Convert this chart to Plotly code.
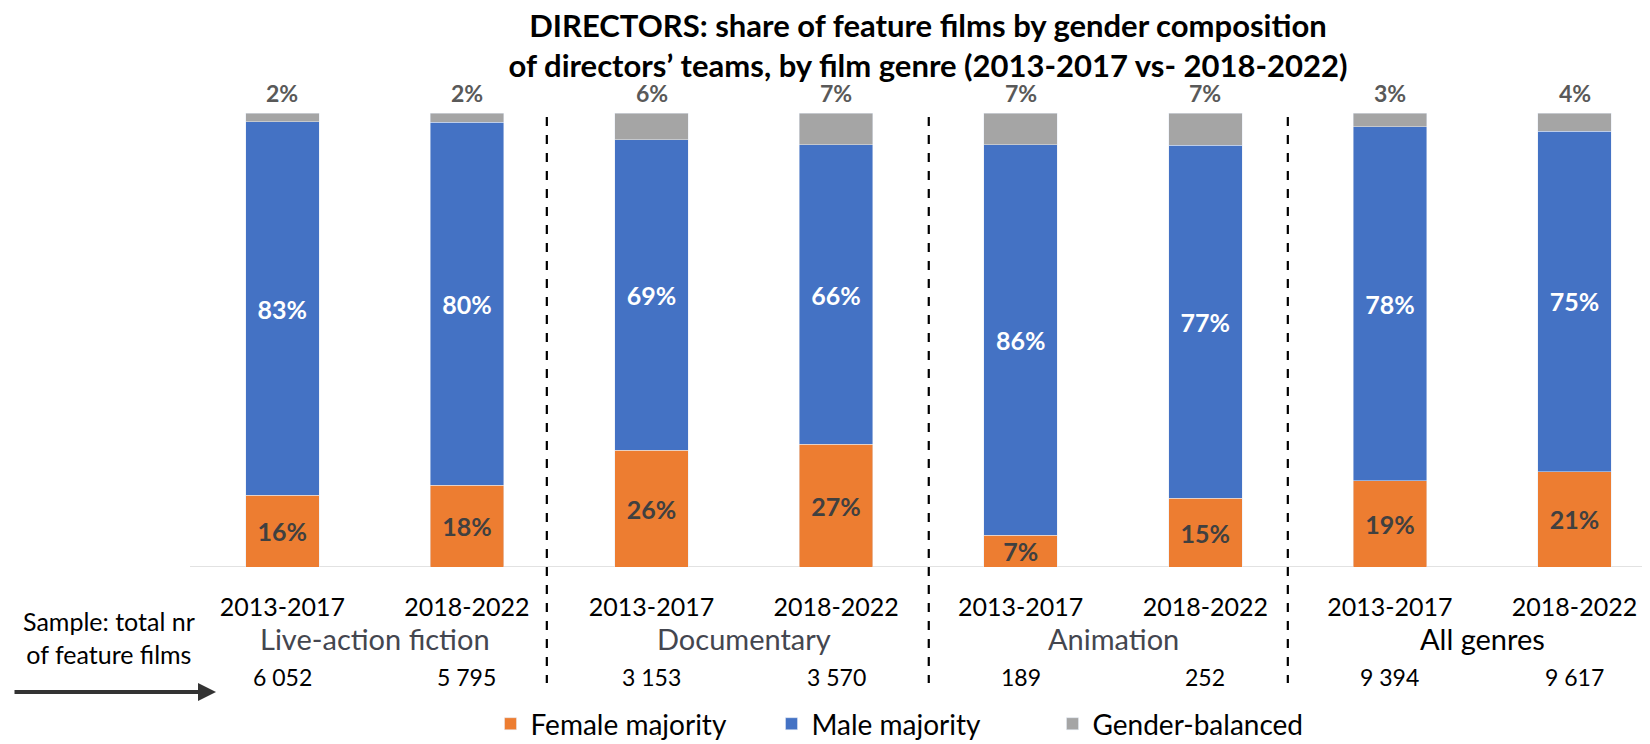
import plotly.graph_objects as go

periods = ["2013-2017", "2018-2022"] * 4
genres = ["Live-action fiction", "Documentary", "Animation", "All genres"]
female = [16, 18, 26, 27, 7, 15, 19, 21]
male = [83, 80, 69, 66, 86, 77, 78, 75]
balanced = [2, 2, 6, 7, 7, 7, 3, 4]
sample_n = [6052, 5795, 3153, 3570, 189, 252, 9394, 9617]

FONT = "Lato"
ORANGE, BLUE, GREY = "#ED7D31", "#4472C4", "#A5A5A5"

xs = list(range(len(periods)))

def pct(vals):
    return [f"{v}%" for v in vals]

# the page body keeps an 8px margin: shift everything by it
OFF = 8
W, H = 1650 - OFF, 744 - OFF
L, T = 182, 105
B = H - (567 - OFF)
plot_h = H - T - B
plot_w = W - L

def py(sy):
    """screen y (px) -> paper y"""
    return (H - B - (sy - OFF)) / plot_h

def pxx(sx):
    """screen x (px) -> paper x"""
    return (sx - OFF - L) / plot_w

fig = go.Figure()
fig.add_trace(go.Bar(
    x=xs, y=female, name="Female majority", marker_color=ORANGE,
    text=pct(female), textposition="inside", insidetextanchor="middle",
    textangle=0, constraintext="none",
    textfont=dict(family=FONT, size=25, color="#404040", weight="bold"),
))
fig.add_trace(go.Bar(
    x=xs, y=male, name="Male majority", marker_color=BLUE,
    text=pct(male), textposition="inside", insidetextanchor="middle",
    textangle=0, constraintext="none",
    textfont=dict(family=FONT, size=25, color="white", weight="bold"),
))
fig.add_trace(go.Bar(
    x=xs, y=balanced, name="Gender-balanced", marker_color=GREY,
    textposition="none",
))

annotations = []
# gender-balanced share labels above each bar
for i, v in enumerate(balanced):
    annotations.append(dict(
        x=i, y=py(93), xref="x", yref="paper", text=f"{v}%", showarrow=False,
        font=dict(family=FONT, size=23, color="#595959", weight="bold"),
        xanchor="center", yanchor="middle"))
for i, g in enumerate(genres):
    annotations.append(dict(
        x=2 * i + 0.5, y=py(638), xref="x", yref="paper", text=g, showarrow=False,
        font=dict(family=FONT, size=29, color="#000000" if g == "All genres" else "#44464f"),
        xanchor="center", yanchor="middle"))
for i, n in enumerate(sample_n):
    annotations.append(dict(
        x=i, y=py(677), xref="x", yref="paper", text=f"{n:,}".replace(",", " "),
        showarrow=False, font=dict(family=FONT, size=23, color="#000000"),
        xanchor="center", yanchor="middle"))
annotations.append(dict(
    x=pxx(109), y=py(637), xref="paper", yref="paper",
    text="Sample: total nr<br>of feature films", showarrow=False, align="center",
    font=dict(family=FONT, size=25, color="#000000"), xanchor="center", yanchor="middle"))
annotations.append(dict(
    x=pxx(216), y=py(692), xref="paper", yref="paper", text="", showarrow=True,
    ax=-203, ay=0, arrowhead=2, arrowsize=0.9, arrowwidth=4, arrowcolor="#333333"))

shapes = []
for sx in [1.433, 3.502, 5.447]:
    shapes.append(dict(type="line", xref="x", yref="paper", x0=sx, x1=sx,
                       y0=py(117), y1=py(683),
                       line=dict(color="#000000", width=2.2, dash="dash")))
shapes.append(dict(type="line", xref="paper", yref="y", x0=0, x1=1, y0=0, y1=0,
                   line=dict(color="#D9D9D9", width=1.5), layer="below"))

fig.update_layout(
    width=W, height=H,
    margin=dict(l=L, r=0, t=T, b=B, autoexpand=False),
    barmode="stack", barnorm="percent", bargap=0.602,
    plot_bgcolor="white", paper_bgcolor="white",
    title=dict(
        text="<b>DIRECTORS: share of feature films by gender composition<br>"
             "of directors’ teams, by film genre (2013-2017 vs- 2018-2022)</b>",
        x=(928 - OFF) / W, xanchor="center", xref="container",
        y=1 - 29 / H, yanchor="top", yref="container",
        font=dict(family=FONT, size=31, color="#000000")),
    xaxis=dict(
        range=[-0.5, -0.5 + plot_w / 184.6], tickvals=xs, ticktext=periods, showgrid=False,
        zeroline=False, showline=False, ticks="", ticklabelstandoff=23,
        tickfont=dict(family=FONT, size=25, color="#000000")),
    yaxis=dict(range=[0, 100], visible=False, showgrid=False, zeroline=False),
    legend=dict(
        orientation="h", x=pxx(912), xanchor="center", y=py(724), yanchor="middle",
        font=dict(family=FONT, size=28, color="#000000"), traceorder="normal",
        entrywidth=236, entrywidthmode="pixels"),
    annotations=annotations, shapes=shapes,
    font=dict(family=FONT),
)

fig.write_html("out.html")
